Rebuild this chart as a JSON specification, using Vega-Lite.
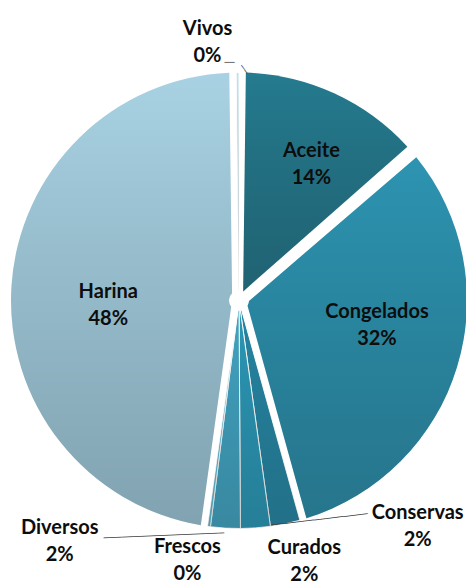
{
  "$schema": "https://vega.github.io/schema/vega-lite/v6.json",
  "autosize": "none",
  "width": 454,
  "height": 561,
  "padding": {"left": 12, "top": 20, "right": 0, "bottom": 0},
  "background": "#ffffff",
  "data": {
    "values": [
      {"categoria": "Aceite", "valor": 0.137},
      {"categoria": "Congelados", "valor": 0.320},
      {"categoria": "Conservas", "valor": 0.021},
      {"categoria": "Curados", "valor": 0.021},
      {"categoria": "Diversos", "valor": 0.021},
      {"categoria": "Frescos", "valor": 0.002},
      {"categoria": "Harina", "valor": 0.476},
      {"categoria": "Vivos", "valor": 0.002}
    ]
  },
  "transform": [
    {
      "stack": "valor",
      "groupby": [],
      "as": ["v0", "v1"],
      "offset": "zero",
      "sort": [{"field": "categoria", "order": "ascending"}]
    },
    {"calculate": "(datum.v0 + datum.v1) / 2", "as": "vm"},
    {"calculate": "[datum.categoria, format(datum.valor, '.0%')]", "as": "etiqueta"}
  ],
  "encoding": {
    "theta": {"field": "v0", "type": "quantitative", "scale": {"domain": [0, 1]}},
    "theta2": {"field": "v1"}
  },
  "layer": [
    {
      "transform": [{"filter": "datum.valor >= 0.1"}],
      "mark": {"type": "arc", "radius": 228, "innerRadius": 10, "padAngle": 0.06},
      "encoding": {
        "color": {
          "field": "categoria",
          "type": "nominal",
          "legend": null,
          "scale": {
            "domain": ["Aceite", "Congelados", "Conservas", "Curados", "Diversos", "Frescos", "Harina", "Vivos"],
            "range": ["#257b8f", "#2d94b1", "#2685a2", "#2b97b5", "#42a3c0", "#62bcd6", "#a8d2e3", "#bfe2ec"]
          }
        }
      }
    },
    {
      "transform": [{"filter": "datum.valor >= 0.1"}],
      "mark": {
        "type": "arc", "radius": 228, "innerRadius": 10, "padAngle": 0.06,
        "fill": {
          "gradient": "linear", "x1": 0, "y1": 0, "x2": 0, "y2": 1,
          "stops": [
            {"offset": 0, "color": "rgba(0,0,0,0)"},
            {"offset": 1, "color": "rgba(20,30,35,0.26)"}
          ]
        }
      }
    },
    {
      "transform": [{"filter": "datum.valor < 0.1"}],
      "mark": {"type": "arc", "radius": 228, "innerRadius": 10, "stroke": "#ffffff", "strokeWidth": 1},
      "encoding": {
        "color": {"field": "categoria", "type": "nominal", "legend": null}
      }
    },
    {
      "transform": [{"filter": "datum.valor < 0.1"}],
      "mark": {
        "type": "arc", "radius": 228, "innerRadius": 10,
        "fill": {
          "gradient": "linear", "x1": 0, "y1": 0, "x2": 0, "y2": 1,
          "stops": [
            {"offset": 0, "color": "rgba(0,0,0,0)"},
            {"offset": 1, "color": "rgba(20,30,35,0.2)"}
          ]
        }
      }
    },
    {
      "transform": [{"filter": "datum.categoria == 'Aceite'"}],
      "mark": {"type": "text", "radius": 164, "dx": 4},
      "encoding": {"theta": {"field": "vm", "type": "quantitative", "scale": {"domain": [0, 1]}}, "theta2": null, "text": {"field": "etiqueta"}}
    },
    {
      "transform": [{"filter": "datum.categoria == 'Congelados'"}],
      "mark": {"type": "text", "radius": 140, "dx": 4, "dy": -29},
      "encoding": {"theta": {"field": "vm", "type": "quantitative", "scale": {"domain": [0, 1]}}, "theta2": null, "text": {"field": "etiqueta"}}
    },
    {
      "transform": [{"filter": "datum.categoria == 'Harina'"}],
      "mark": {"type": "text", "radius": 131},
      "encoding": {"theta": {"field": "vm", "type": "quantitative", "scale": {"domain": [0, 1]}}, "theta2": null, "text": {"field": "etiqueta"}}
    },
    {
      "transform": [{"filter": "datum.categoria == 'Conservas'"}],
      "mark": {"type": "text", "radius": 240, "dx": 130, "dy": -23},
      "encoding": {"theta": {"field": "vm", "type": "quantitative", "scale": {"domain": [0, 1]}}, "theta2": null, "text": {"field": "etiqueta"}}
    },
    {
      "transform": [{"filter": "datum.categoria == 'Curados'"}],
      "mark": {"type": "text", "radius": 240, "dx": 48, "dy": 8},
      "encoding": {"theta": {"field": "vm", "type": "quantitative", "scale": {"domain": [0, 1]}}, "theta2": null, "text": {"field": "etiqueta"}}
    },
    {
      "transform": [{"filter": "datum.categoria == 'Diversos'"}],
      "mark": {"type": "text", "radius": 240, "dx": -165, "dy": -12},
      "encoding": {"theta": {"field": "vm", "type": "quantitative", "scale": {"domain": [0, 1]}}, "theta2": null, "text": {"field": "etiqueta"}}
    },
    {
      "transform": [{"filter": "datum.categoria == 'Frescos'"}],
      "mark": {"type": "text", "radius": 240, "dx": -20, "dy": 9},
      "encoding": {"theta": {"field": "vm", "type": "quantitative", "scale": {"domain": [0, 1]}}, "theta2": null, "text": {"field": "etiqueta"}}
    },
    {
      "transform": [{"filter": "datum.categoria == 'Vivos'"}],
      "mark": {"type": "text", "radius": 240, "dx": -30, "dy": -32},
      "encoding": {"theta": {"field": "vm", "type": "quantitative", "scale": {"domain": [0, 1]}}, "theta2": null, "text": {"field": "etiqueta"}}
    },
    {
      "transform": [{"filter": "datum.categoria == 'Diversos'"}],
      "mark": {"type": "text", "radius": 226, "dx": -62, "dy": 7, "angle": -2.4, "font": "DejaVu Sans Mono", "fontWeight": "normal", "fontSize": 10, "color": "#404040", "text": "────────────────────"},
      "encoding": {"theta": {"field": "vm", "type": "quantitative", "scale": {"domain": [0, 1]}}, "theta2": null}
    },
    {
      "transform": [{"filter": "datum.categoria == 'Conservas'"}],
      "mark": {"type": "text", "radius": 226, "dx": 35, "dy": 2, "angle": -6.7, "font": "DejaVu Sans Mono", "fontWeight": "normal", "fontSize": 10, "color": "#404040", "text": "────────────────"},
      "encoding": {"theta": {"field": "vm", "type": "quantitative", "scale": {"domain": [0, 1]}}, "theta2": null}
    },
    {
      "transform": [{"filter": "datum.categoria == 'Vivos'"}],
      "mark": {"type": "text", "radius": 226, "dx": -8, "dy": -13, "font": "DejaVu Sans Mono", "fontWeight": "normal", "fontSize": 8.5, "color": "#404040", "text": "──"},
      "encoding": {"theta": {"field": "vm", "type": "quantitative", "scale": {"domain": [0, 1]}}, "theta2": null}
    },
    {
      "transform": [{"filter": "datum.categoria == 'Vivos'"}],
      "mark": {"type": "text", "radius": 226, "dx": 0, "dy": -8.5, "angle": 53, "font": "DejaVu Sans Mono", "fontWeight": "normal", "fontSize": 8.5, "color": "#404040", "text": "──"},
      "encoding": {"theta": {"field": "vm", "type": "quantitative", "scale": {"domain": [0, 1]}}, "theta2": null}
    }
  ],
  "config": {
    "view": {"stroke": null},
    "text": {"font": "Lato", "fontWeight": "bold", "fontSize": 20, "lineHeight": 27, "color": "#0d0d0d"}
  }
}
